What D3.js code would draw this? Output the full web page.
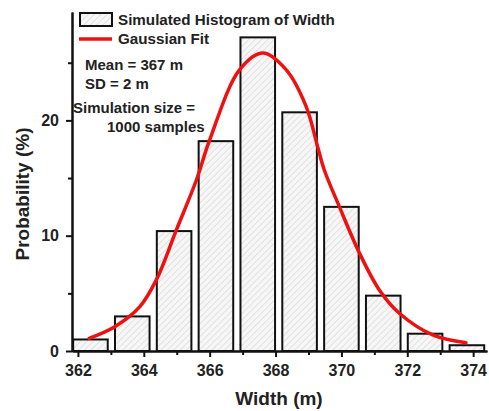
<!DOCTYPE html>
<html>
<head>
<meta charset="utf-8">
<script src="https://cdn.jsdelivr.net/npm/d3@7"></script>
<style>
  body { margin: 0; background: #fff; }
  text { font-family: "Liberation Sans", Arial, sans-serif; font-weight: bold; }
</style>
</head>
<body>
<div id="vis"></div>
<script>
// Histogram bins (centers, m) and probability (%)
const binCenters = [362.38, 363.65, 364.92, 366.19, 367.46, 368.73, 370.0, 371.27, 372.54, 373.81];
const binProb = [1.0, 3.0, 10.4, 18.2, 27.2, 20.7, 12.5, 4.8, 1.5, 0.5];
const barWidth = 1.05;

// Gaussian fit curve
const fitX = [362.34, 363.12, 363.88, 364.38, 364.99, 365.6, 366.0, 366.91, 367.62, 368.32, 368.93, 369.28, 369.48, 369.94, 370.55, 371.15, 371.76, 372.77, 373.78];
const fitY = [1.1, 2.11, 3.85, 6.17, 10.5, 14.85, 18.3, 24.4, 25.85, 24.4, 21.2, 17.7, 15.7, 12.5, 8.48, 5.3, 3.27, 1.39, 0.72];

const xMajor = [362, 364, 366, 368, 370, 372, 374];
const xMinor = [363, 365, 367, 369, 371, 373];
const yMajor = [0, 10, 20];
const yMinor = [5, 15, 25];

const notes = ['Mean = 367 m', 'SD = 2 m', 'Simulation size =', '1000 samples'];

const W = 489, H = 411;
const margin = { top: 12, right: 2, bottom: 60, left: 72 };
const width = W - margin.left - margin.right;
const height = H - margin.top - margin.bottom;

const root = d3.select('#vis').append('svg')
    .attr('width', W)
    .attr('height', H);

// hatch pattern for the bars
const defs = root.append('defs');
const pat = defs.append('pattern')
    .attr('id', 'hatch')
    .attr('patternUnits', 'userSpaceOnUse')
    .attr('width', 4.5).attr('height', 4.5)
    .attr('patternTransform', 'rotate(45)');
pat.append('rect').attr('width', 4.5).attr('height', 4.5).attr('fill', '#f6f6f6');
pat.append('line')
    .attr('x1', 0).attr('y1', 0).attr('x2', 0).attr('y2', 4.5)
    .attr('stroke', '#cfcfcf').attr('stroke-width', 1);

const svg = root.append('g')
    .attr('transform', `translate(${margin.left},${margin.top})`);

const x = d3.scaleLinear().domain([361.82, 374.42]).range([0, width]);
const y = d3.scaleLinear().domain([0, 29.4]).range([height, 0]);

// bars
svg.selectAll('.bar')
    .data(binCenters)
    .join('rect')
    .attr('class', 'bar')
    .attr('x', d => x(d - barWidth / 2))
    .attr('width', x(binCenters[0] + barWidth / 2) - x(binCenters[0] - barWidth / 2))
    .attr('y', (d, i) => y(binProb[i]))
    .attr('height', (d, i) => y(0) - y(binProb[i]))
    .attr('fill', 'url(#hatch)')
    .attr('stroke', '#111')
    .attr('stroke-width', 2);

// fit curve
const line = d3.line()
    .x(d => x(d[0]))
    .y(d => y(d[1]))
    .curve(d3.curveCatmullRom);
svg.append('path')
    .datum(fitX.map((v, i) => [v, fitY[i]]))
    .attr('d', line)
    .attr('fill', 'none')
    .attr('stroke', '#ee1111')
    .attr('stroke-width', 3.5)
    .attr('stroke-linecap', 'round');

// axes
function styleAxis(g) {
    g.selectAll('path').attr('stroke', '#111').attr('stroke-width', 2);
    g.selectAll('line').attr('stroke', '#111').attr('stroke-width', 2);
    g.selectAll('text').attr('fill', '#222').style('font-size', '16px');
}

svg.append('g')
    .attr('transform', `translate(0,${height})`)
    .call(d3.axisBottom(x).tickValues(xMinor).tickSize(4).tickFormat('').tickSizeOuter(0))
    .call(styleAxis);
svg.append('g')
    .attr('transform', `translate(0,${height})`)
    .call(d3.axisBottom(x).tickValues(xMajor).tickSize(6).tickPadding(8).tickSizeOuter(0).tickFormat(d3.format('d')))
    .call(styleAxis);

svg.append('g')
    .call(d3.axisLeft(y).tickValues(yMinor).tickSize(4).tickFormat('').tickSizeOuter(0))
    .call(styleAxis);
svg.append('g')
    .call(d3.axisLeft(y).tickValues(yMajor).tickSize(6).tickPadding(7).tickSizeOuter(0))
    .call(styleAxis);

// axis titles
svg.append('text')
    .attr('x', 279 - margin.left)
    .attr('y', height + 54)
    .attr('text-anchor', 'middle')
    .style('font-size', '19px')
    .attr('fill', '#222')
    .text('Width (m)');

svg.append('text')
    .attr('transform', 'rotate(-90)')
    .attr('x', -(194 - margin.top))
    .attr('y', 29 - margin.left)
    .attr('text-anchor', 'middle')
    .style('font-size', '19px')
    .attr('fill', '#222')
    .text('Probability (%)');

// legend
const lg = root.append('g');
lg.append('rect')
    .attr('x', 80).attr('y', 13).attr('width', 32).attr('height', 13)
    .attr('fill', 'url(#hatch)').attr('stroke', '#111').attr('stroke-width', 2);
lg.append('text').attr('x', 118).attr('y', 25).style('font-size', '15.2px').attr('fill', '#222')
    .text('Simulated Histogram of Width');
lg.append('line')
    .attr('x1', 79).attr('x2', 112).attr('y1', 39).attr('y2', 39)
    .attr('stroke', '#ee1111').attr('stroke-width', 3.5);
lg.append('text').attr('x', 118).attr('y', 44).style('font-size', '15.2px').attr('fill', '#222')
    .text('Gaussian Fit');

// annotation
const notePos = [[85, 70], [85, 89], [73, 113], [107, 132]];
root.selectAll('.note')
    .data(notes)
    .join('text')
    .attr('class', 'note')
    .attr('x', (d, i) => notePos[i][0])
    .attr('y', (d, i) => notePos[i][1])
    .style('font-size', '15px')
    .attr('fill', '#222')
    .text(d => d);
</script>
</body>
</html>
